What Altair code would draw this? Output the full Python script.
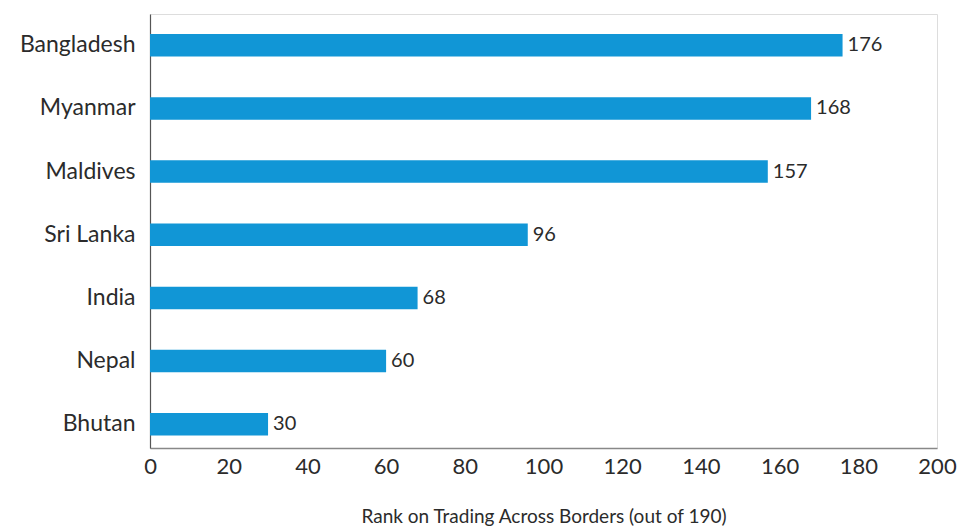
import altair as alt
import pandas as pd

countries = ["Bangladesh", "Myanmar", "Maldives", "Sri Lanka", "India", "Nepal", "Bhutan"]
ranks = [176, 168, 157, 96, 68, 60, 30]
x_ticks = [0, 20, 40, 60, 80, 100, 120, 140, 160, 180, 200]

df = pd.DataFrame({"country": countries, "rank": ranks})

FONT = "Lato"
TXT = "#2b2b2b"

y_enc = alt.Y(
    "country:N",
    sort=countries,
    scale=alt.Scale(paddingInner=0.644, paddingOuter=0.257, align=0.615),
    axis=alt.Axis(
        title=None, ticks=False, domain=True, domainColor="#555555", domainWidth=1.2,
        labelFont=FONT, labelFontSize=23, labelColor=TXT, labelPadding=15,
        grid=False,
    ),
)

x_enc = alt.X(
    "rank:Q",
    scale=alt.Scale(domain=[0, 200], nice=False),
    axis=alt.Axis(
        values=x_ticks, ticks=False, grid=False, domainColor="#888888", domainWidth=1.5,
        labelFont=FONT, labelFontSize=22, labelColor=TXT, labelPadding=8,
        labelFlush=False,
        title="Rank on Trading Across Borders (out of 190)", titleFont=FONT,
        titleFontSize=19, titleFontWeight="normal", titleColor=TXT, titlePadding=30,
    ),
)

bars = alt.Chart(df).mark_bar(color="#1196d6").encode(x=x_enc, y=y_enc)
labels = alt.Chart(df).mark_text(
    align="left", baseline="middle", dx=5, font=FONT, fontSize=20, color=TXT
).encode(x="rank:Q", y=alt.Y("country:N", sort=countries), text="rank:Q")

chart = (bars + labels).properties(
    width=787, height=434,
    autosize=alt.AutoSizeParams(type="none"),
    padding={"left": 150, "top": 14, "right": 29, "bottom": 81},
).configure_view(stroke=None).configure(background="white")

chart.save("out.html", embed_options={"renderer": "svg", "actions": False})
